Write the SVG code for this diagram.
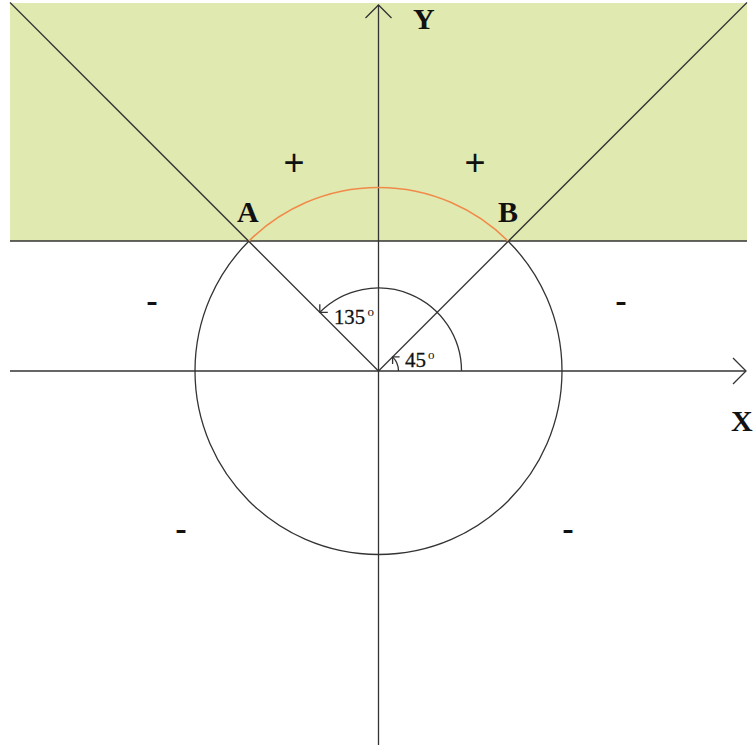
<svg xmlns="http://www.w3.org/2000/svg" width="755" height="745" viewBox="0 0 755 745">
<style>
.ln{stroke:#333;stroke-width:1.3;fill:none}
.lbl{font-family:"Liberation Serif",serif;font-weight:bold;font-size:30px;fill:#111}
.ang{font-family:"Liberation Serif",serif;font-size:22px;fill:#111;stroke:#111;stroke-width:0.3}
.sup{font-family:"Liberation Serif",serif;font-size:13px;fill:#111}
.sgn{font-family:"Liberation Sans",sans-serif;font-size:36px;fill:#111}
</style>
<rect width="755" height="745" fill="#fff"/>
<g id="region"><rect x="10" y="3" width="737" height="238" fill="#e0e9b0"/></g>
<g id="connectors">
<line class="ln" x1="10" y1="241" x2="747" y2="241"/>
<line class="ln" x1="10" y1="371" x2="746" y2="371"/>
<line class="ln" x1="378.5" y1="5" x2="378.5" y2="745"/>
<polyline class="ln" points="365.5,18 378.5,5 391.5,18"/>
<polyline class="ln" points="733,358 746,371 733,384"/>
<line class="ln" x1="378.5" y1="371" x2="10" y2="2.5"/>
<line class="ln" x1="378.5" y1="371" x2="747" y2="2.5"/>
<path class="ln" d="M249,241 A183.5,183.5 0 1 0 508,241"/>
<path d="M249,241 A183.5,183.5 0 0 1 508,241" fill="none" stroke="#f08a4a" stroke-width="1.5"/>
<path class="ln" d="M461.5,371 A83,83 0 0 0 319.8,312.3"/>
<polyline class="ln" points="319.8,304.3 319.8,312.3 327.8,312.3"/>
<path class="ln" d="M398.5,371 A20,20 0 0 0 392.6,356.9"/>
<polyline class="ln" points="399.6,356.9 392.6,356.9 392.6,363.9"/>
</g>
<g id="labels">
<text class="ang" x="334" y="324" textLength="31" lengthAdjust="spacingAndGlyphs">135</text>
<text class="sup" x="367.5" y="316">o</text>
<text class="ang" x="405" y="367" textLength="21" lengthAdjust="spacingAndGlyphs">45</text>
<text class="sup" x="428" y="359">o</text>
<text class="lbl" x="237" y="222">A</text>
<text class="lbl" x="498" y="222">B</text>
<text class="lbl" x="413" y="29">Y</text>
<text class="lbl" x="731" y="431">X</text>
<text class="sgn" x="294" y="175" text-anchor="middle">+</text>
<text class="sgn" x="475" y="175" text-anchor="middle">+</text>
<text class="sgn" x="152" y="313" text-anchor="middle">-</text>
<text class="sgn" x="621" y="313" text-anchor="middle">-</text>
<text class="sgn" x="181" y="541" text-anchor="middle">-</text>
<text class="sgn" x="568" y="541" text-anchor="middle">-</text>
</g>
</svg>
